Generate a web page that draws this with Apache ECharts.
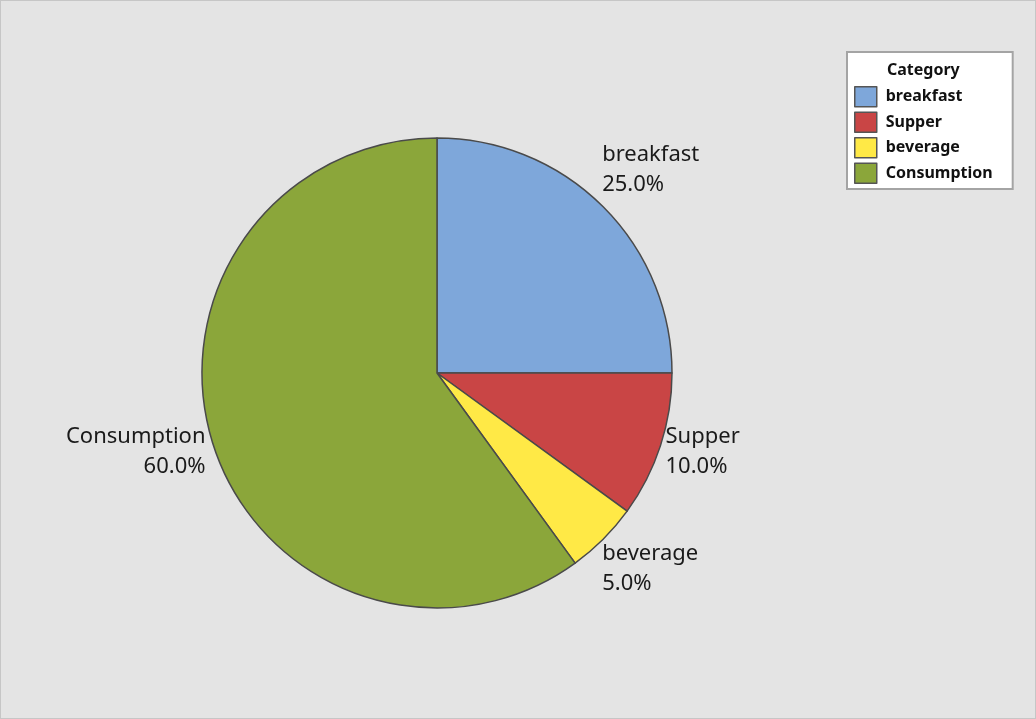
<!DOCTYPE html>
<html>
<head>
<meta charset="utf-8">
<script src="https://cdn.jsdelivr.net/npm/echarts@6/dist/echarts.min.js"></script>
<style>
  html, body { margin: 0; padding: 0; background: #e4e4e4; }
  #chart { width: 1034px; height: 717px; border: 1px solid #c6c6c6; }
</style>
</head>
<body>
<div id="chart"></div>
<script>
// Spending share by category
const categories = ['breakfast', 'Supper', 'beverage', 'Consumption'];
const shares = [25.0, 10.0, 5.0, 60.0];
const colors = ['#7ea7da', '#c94545', '#ffe946', '#8ba63a'];
// vertical anchor and nudge of each slice label relative to its rim point
const labelAnchors = ['bottom', 'middle', 'top', 'middle'];
const labelNudgeX = [-6, 0, -6, -3];
const labelNudgeY = [-7, 6, 0, 6];

const chart = echarts.init(document.getElementById('chart'));
const font = '"Noto Sans", "Open Sans", sans-serif';

chart.setOption({
  backgroundColor: '#e4e4e4',
  animation: false,
  title: {
    text: 'Category',
    left: 886,
    top: 61,
    padding: 0,
    z: 10,
    textStyle: { fontFamily: font, fontSize: 16, fontWeight: 'bold', color: '#111' }
  },
  legend: {
    orient: 'vertical',
    left: 846,
    top: 51,
    data: categories,
    backgroundColor: '#ffffff',
    borderColor: '#a4a4a4',
    borderWidth: 2,
    borderRadius: 0,
    padding: [34, 20, 5, 7],
    itemWidth: 22,
    itemHeight: 20,
    itemGap: 4,
    icon: 'rect',
    itemStyle: { borderColor: '#555', borderWidth: 1.5 },
    textStyle: { fontFamily: font, fontSize: 16, lineHeight: 20, fontWeight: 'bold', color: '#111', padding: [0, 0, 0, 4] }
  },
  series: [{
    type: 'pie',
    center: [436, 372],
    radius: 235,
    startAngle: 90,
    clockwise: true,
    avoidLabelOverlap: false,
    data: categories.map((name, i) => ({
      name,
      value: shares[i],
      itemStyle: { color: colors[i] }
    })),
    itemStyle: { borderColor: '#4a4a4a', borderWidth: 1.5 },
    label: {
      show: true,
      position: 'outside',
      formatter: p => p.name + '\n' + p.value.toFixed(1) + '%',
      fontFamily: font,
      fontSize: 22,
      lineHeight: 30,
      color: '#1a1a1a'
    },
    labelLine: { show: false, length: 0, length2: 0 },
    labelLayout: p => ({
      verticalAlign: labelAnchors[p.dataIndex],
      dx: labelNudgeX[p.dataIndex],
      dy: labelNudgeY[p.dataIndex]
    }),
    emphasis: { disabled: true }
  }]
});
</script>
</body>
</html>
